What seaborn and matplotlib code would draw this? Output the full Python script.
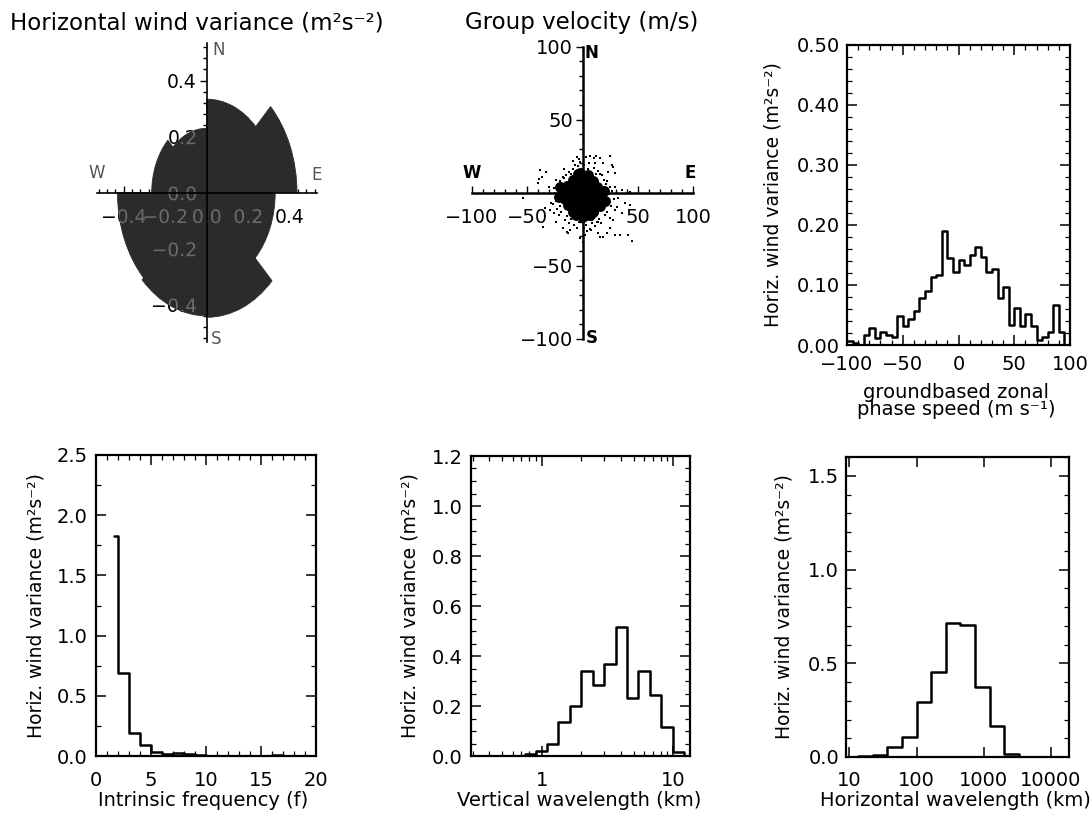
import numpy as np
import pandas as pd
import matplotlib
matplotlib.use("Agg")
import matplotlib.pyplot as plt
import matplotlib.patheffects as pe
from matplotlib.patches import Wedge
from matplotlib.path import Path
from matplotlib.ticker import (MultipleLocator, FuncFormatter, FixedLocator,
                               NullFormatter, LogLocator)
import seaborn as sns

# ---------------------------------------------------------------- data
# Horizontal wind variance per propagation direction (45 deg sectors, clockwise from N)
sector_start_deg = [0, 45, 90, 135, 180, 225, 270, 315]
sector_variance = [0.334, 0.435, 0.33, 0.445, 0.44, 0.43, 0.265, 0.23]

# Group velocity (m/s): densely populated core
core_u = [-8.2, -2.1, 3.9, 9.6,
          -14.3, -8.5, -3.2, 2.4, 7.8, 13.1,
          -17.2, -11.4, -5.3, 0.3, 5.9, 11.6, 16.8,
          -16.1, -10.2, -4.4, 1.2, 6.8, 12.7, 17.9,
          -12.8, -7.1, -1.3, 4.6, 10.9, 15.7,
          -8.4, -2.6, 3.8, 9.7,
          -20.3, -20.8, 19.6, 20.4, -4.1, 5.2, 0.2, -6.3, 7.1, -1.9]
core_v = [8.8, 9.6, 9.1, 8.2,
          4.9, 5.6, 4.2, 5.3, 4.7, 3.9,
          0.7, 0.2, 1.1, 0.4, 0.9, -0.3, 0.5,
          -4.2, -3.7, -4.6, -3.9, -4.4, -3.5, -4.8,
          -8.7, -8.1, -9.0, -8.4, -8.8, -9.3,
          -12.9, -13.6, -12.7, -13.2,
          3.8, -2.9, 1.2, -5.8, 12.9, 12.4, -16.2, -15.6, -15.1, 13.8]
# Group velocity (m/s): individual events around the core
spread_u = [-12, -9, -6, -4, -1, 1, 3, 5, 8, 10, 12, 14, -15, -2, 6, -7, 16, 11, -10, 0,
            -20, -23, -21, -25, -22, -24, -20, -23, -19, -26, -18, -27, -21, -17, -19, -18, -20,
            19, 21, 22, 24, 20, 23, 19, 22, 25, 26, 18, 20, 27, 17, 18, 21,
            -14, -10, -6, -3, 0, 3, 6, 9, 12, 15, -8, 1, 11, 17, -12, 4, -1, 7, 13, -5,
            -5.4, 6.6, 12.6, 18.6, 24.6, 26.2, 29.2, -38.5, -32.5, -40.0, -39.7, -53.6,
            -28.6, -29.5, -23.5, -17.5, -14.4, -11.4, 29.2, 35.2, 32.1, 38.2, 42.7, 29.2,
            27.6, 35.2, 24.6, 29.2, 41.2, 14.1, 18.6, 8.1, 2.1, -35.6, -13.0, 3.6, 15.6,
            27.6, 42.7, 33.7, 21.7, 15.6, -34.0, -37.0, 0.5, -2.0, 45.0,
            -16, -24, 23, 28, -9, 9, -26, 25, -3, 4, 31, -30, 10, -17, 14, 22]
spread_v = [14, 16, 13, 18, 15, 19, 13.5, 16.5, 14, 17, 12.5, 15, 12, 21, 20, 19, 13, 20, 12.5, 12.5,
            8, 5, 2, 0, -3, -6, -9, -11, -13, 3, 11, -8, -15, 10, 6.5, -4, -1,
            9, 6, 2, -1, -5, -7, -11, -13, 4, -9, 12, -15, 1, -9.5, 3.5, -2.5,
            -16, -18, -15, -20, -17, -22, -16, -19, -15.5, -18, -22, -24, -23, -21, -21, -18.5,
            -14.5, -25, -20, -24,
            24.7, 25.1, 25.1, 20.1, 25.1, 19.0, 13.3, 15.5, 14.0, 6.4, 9.2, -3.9,
            -7.3, -11.8, -19.9, -24.4, -26.7, -25.5, 4.1, 1.8, -3.8, -7.3, -8.4, -11.8,
            -18.7, -14.2, -24.4, -29.0, -29.0, -27.8, -30.1, -25.5, -29.0, -23.3, -27.8, 24.7, 23.6,
            17.8, 0.7, -29.0, -27.8, -30.1, -10.7, 11.0, -34.0, -31.0, -33.0,
            -19, 9, 14, -4, 22, -21, -14, -17, 23, -26, -10, 4, 24, 16, -20, 8]

# Horizontal wind variance vs. ground-based zonal phase speed (5 m/s bins)
phase_edges = list(range(-100, 101, 5))
phase_var = [0.006, 0.004, 0.0, 0.017, 0.029, 0.012, 0.022, 0.017, 0.014, 0.048,
             0.032, 0.043, 0.057, 0.078, 0.090, 0.114, 0.116, 0.190, 0.145, 0.121,
             0.141, 0.133, 0.150, 0.163, 0.146, 0.122, 0.126, 0.078, 0.097, 0.033,
             0.062, 0.032, 0.051, 0.032, 0.008, 0.013, 0.021, 0.067, 0.021, 0.0]

# ... vs. intrinsic frequency (in units of f)
freq_edges = [1.6, 2, 3, 4, 5, 6, 7, 8, 9, 10, 11, 12, 13, 14, 15, 16, 17, 18, 19, 20]
freq_var = [1.83, 0.69, 0.195, 0.09, 0.036, 0.02, 0.028, 0.018, 0.007, 0.004,
            0.003, 0.004, 0.003, 0.002, 0.004, 0.01, 0.003, 0.0, 0.0]

# ... vs. vertical wavelength (km)
vert_edges = [0.74, 0.90, 1.10, 1.34, 1.64, 2.00, 2.44, 2.98, 3.64, 4.45,
              5.43, 6.63, 8.10, 9.90, 12.1, 13.4]
vert_var = [0.008, 0.02, 0.047, 0.135, 0.201, 0.341, 0.285, 0.368, 0.517, 0.231,
            0.341, 0.245, 0.117, 0.015, 0.0]

# ... vs. horizontal wavelength (km)
horiz_edges = [13.5, 22.3, 36.8, 60.7, 100, 165, 272, 448, 739, 1218, 2009, 3312, 5460]
horiz_var = [0.004, 0.01, 0.055, 0.105, 0.295, 0.455, 0.713, 0.705, 0.372, 0.167, 0.018, 0.0]

YLABEL = "Horiz. wind variance (m²s⁻²)"

# ---------------------------------------------------------------- style
sns.set_theme(style="ticks")
plt.rcParams["font.family"] = ["DejaVu Sans"]
plt.rcParams.update({
    "axes.unicode_minus": True,
    "text.color": "black",
    "axes.labelcolor": "black",
    "axes.edgecolor": "black",
    "xtick.color": "black",
    "ytick.color": "black",
    "xtick.labelcolor": "black",
    "ytick.labelcolor": "black",
})
TICK_FS = 14
ROSE_FS = 13.5
LABEL_FS = 14
PETAL = "#2b2b2b"
X_PAD, Y_TICK, Y_PAD = 11, 5, 2

W, H = 1090, 816
fig = plt.figure(figsize=(W / 100, H / 100), dpi=100)
fig.patch.set_facecolor("white")


def px_axes(left, top, right, bottom):
    """Axes placed by pixel box (origin top-left)."""
    return fig.add_axes([left / W, 1 - bottom / H, (right - left) / W, (bottom - top) / H])


def fmt_value(v, decimals):
    if abs(v) < 1e-9:
        v = 0.0
    return f"{v:.{decimals}f}".replace("-", "\u2212")


def minus_fmt(decimals):
    return FuncFormatter(lambda v, pos: fmt_value(v, decimals))


def compass(ax, ticks, decimals, minor_step, letters, letter_color, letter_weight,
            line_width, fontsize):
    ax.set_facecolor("none")
    ax.spines["left"].set_position(("data", 0))
    ax.spines["bottom"].set_position(("data", 0))
    for s in ("top", "right"):
        ax.spines[s].set_visible(False)
    for s in ("left", "bottom"):
        ax.spines[s].set_linewidth(line_width)
        ax.spines[s].set_color("black")
    ax.set_xticks(ticks)
    ax.set_yticks(ticks)
    ax.xaxis.set_minor_locator(MultipleLocator(minor_step))
    ax.yaxis.set_minor_locator(MultipleLocator(minor_step))
    ax.xaxis.set_major_formatter(minus_fmt(decimals))
    ax.yaxis.set_major_formatter(minus_fmt(decimals))
    ax.tick_params(axis="x", which="both", direction="in", pad=X_PAD, labelsize=fontsize,
                   color="black", labelcolor="black", width=1.0)
    ax.tick_params(axis="y", which="both", direction="out", pad=Y_PAD, labelsize=fontsize,
                   color="black", labelcolor="black", width=1.0)
    ax.tick_params(which="major", length=Y_TICK)
    ax.tick_params(which="minor", length=3)
    for txt, (fx, fy) in letters.items():
        ax.text(fx, fy, txt, transform=ax.transAxes, ha="center", va="center",
                fontsize=12, color=letter_color, fontweight=letter_weight, clip_on=False)


def box_style(ax, xlim, ylim, y_major, y_minor, y_dec, xpad, ypad):
    ax.set_xlim(*xlim)
    ax.set_ylim(*ylim)
    for s in ax.spines.values():
        s.set_visible(True)
        s.set_linewidth(1.6)
        s.set_color("black")
    ax.yaxis.set_major_locator(MultipleLocator(y_major))
    ax.yaxis.set_minor_locator(MultipleLocator(y_minor))
    ax.yaxis.set_major_formatter(minus_fmt(y_dec))
    ax.tick_params(which="both", direction="in", top=True, right=True, color="black",
                   labelcolor="black", labelsize=TICK_FS)
    ax.tick_params(which="major", length=7, width=1.1)
    ax.tick_params(which="minor", length=3.5, width=0.9)
    ax.tick_params(axis="x", which="both", pad=xpad)
    ax.tick_params(axis="y", which="both", pad=ypad)


def step_hist(ax, edges, values, log=False):
    edges = np.asarray(edges, dtype=float)
    if log:
        centers = np.sqrt(edges[:-1] * edges[1:])
        bins = np.log10(edges)
    else:
        centers = 0.5 * (edges[:-1] + edges[1:])
        bins = edges
    df = pd.DataFrame({"value": centers, "variance": values})
    sns.histplot(data=df, x="value", weights="variance", bins=list(bins), element="step",
                 fill=False, color="black", linewidth=1.8, log_scale=log, ax=ax)


def labels(ax, xlabel, xlabel_x, ylabel_x, xlabel_y):
    ax.set_xlabel(xlabel, fontsize=LABEL_FS, color="black")
    ax.set_ylabel(YLABEL, fontsize=LABEL_FS - 0.5, color="black")
    ax.xaxis.set_label_coords(xlabel_x, xlabel_y)
    ax.xaxis.label.set_va("center")
    ax.yaxis.set_label_coords(ylabel_x, 0.5)
    ax.yaxis.label.set_va("center")


# ---------------------------------------------------------------- rose of variance
axr = px_axes(96.7, 42.9, 316.7, 342.5)
axr.set_xlim(-0.53, 0.53)
axr.set_ylim(-0.535, 0.535)
width = 360 / len(sector_start_deg)
petal_paths = []
for a0, r in zip(sector_start_deg, sector_variance):
    w = Wedge((0, 0), r, 90 - a0 - width, 90 - a0, facecolor=PETAL,
              edgecolor=PETAL, linewidth=0.6, zorder=1)
    axr.add_patch(w)
    petal_paths.append(w.get_path())
rose_ticks = [-0.4, -0.2, 0.0, 0.2, 0.4]
compass(axr, rose_ticks, 1, 0.04,
        {"N": (0.553, 0.976), "S": (0.545, 0.012), "W": (0.0, 0.565), "E": (1.0, 0.559)},
        "#555555", "normal", 1.2, ROSE_FS)
axr.set_axisbelow(True)
for s in ("left", "bottom"):
    axr.spines[s].set_zorder(2.5)

# tick labels re-drawn in grey where they lie over the petals
# (drawn as paths so that the petal outline can clip them)
petal_clip = Path.make_compound_path(*petal_paths)
for t in rose_ticks:
    lab = fmt_value(t, 1)
    tx = axr.annotate(lab, xy=(t, 0), xycoords="data", xytext=(0, -X_PAD),
                      textcoords="offset points", ha="center", va="top",
                      fontsize=ROSE_FS, color="#6b6b6b", zorder=2,
                      path_effects=[pe.Normal()])
    tx.set_clip_path(petal_clip, axr.transData)
    ty = axr.annotate(lab, xy=(0, t), xycoords="data", xytext=(-(Y_TICK + Y_PAD), 0),
                      textcoords="offset points", ha="right", va="center_baseline",
                      fontsize=ROSE_FS, color="#6b6b6b", zorder=2,
                      path_effects=[pe.Normal()])
    ty.set_clip_path(petal_clip, axr.transData)

fig.text(10 / W, 1 - 23 / H, "Horizontal wind variance (m²s⁻²)", fontsize=16.5,
         ha="left", va="center")

# ---------------------------------------------------------------- group velocity scatter
axs = px_axes(471.7, 46.7, 693.3, 338.7)
sns.scatterplot(x=spread_u, y=spread_v, ax=axs, s=3.5, marker="s", color="black",
                linewidth=0, zorder=3)
sns.scatterplot(x=core_u, y=core_v, ax=axs, s=62, marker="o", color="black",
                linewidth=0, zorder=3)
compass(axs, [-100, -50, 0, 50, 100], 0, 10,
        {"N": (0.5415, 0.977), "S": (0.5415, 0.002), "W": (0.0, 0.567), "E": (0.985, 0.567)},
        "black", "bold", 1.8, TICK_FS)
axs.set_xlim(-100, 100)
axs.set_ylim(-100, 100)
fig.text(582 / W, 1 - 23 / H, "Group velocity (m/s)", fontsize=16.5, ha="center", va="center")

# ---------------------------------------------------------------- phase speed histogram
ax1 = px_axes(847, 45, 1070, 345)
step_hist(ax1, phase_edges, phase_var)
box_style(ax1, (-100, 100), (0, 0.5), 0.1, 0.02, 2, xpad=7, ypad=5)
ax1.xaxis.set_major_locator(MultipleLocator(50))
ax1.xaxis.set_minor_locator(MultipleLocator(10))
ax1.xaxis.set_major_formatter(minus_fmt(0))
labels(ax1, "groundbased zonal\nphase speed (m s⁻¹)", 0.49, -0.334, -0.187)
ax1.xaxis.label.set_linespacing(0.85)

# ---------------------------------------------------------------- intrinsic frequency
ax2 = px_axes(96, 455, 316, 756)
step_hist(ax2, freq_edges, freq_var)
box_style(ax2, (0, 20), (0, 2.5), 0.5, 0.25, 1, xpad=11, ypad=6)
ax2.xaxis.set_major_locator(MultipleLocator(5))
ax2.xaxis.set_minor_locator(MultipleLocator(1))
ax2.xaxis.set_major_formatter(minus_fmt(0))
labels(ax2, "Intrinsic frequency (f)", 0.485, -0.273, -0.148)

# ---------------------------------------------------------------- vertical wavelength
ax3 = px_axes(471, 456, 690, 756)
step_hist(ax3, vert_edges, vert_var, log=True)
box_style(ax3, (0.29, 13.4), (0, 1.2), 0.2, 0.05, 1, xpad=11, ypad=6)
ax3.xaxis.set_major_locator(FixedLocator([1, 10]))
ax3.xaxis.set_major_formatter(FuncFormatter(lambda v, p: f"{v:g}"))
ax3.xaxis.set_minor_locator(LogLocator(base=10, subs=np.arange(2, 10)))
ax3.xaxis.set_minor_formatter(NullFormatter())
labels(ax3, "Vertical wavelength (km)", 0.493, -0.28, -0.149)

# ---------------------------------------------------------------- horizontal wavelength
ax4 = px_axes(846, 457, 1069, 757)
step_hist(ax4, horiz_edges, horiz_var, log=True)
box_style(ax4, (8.9, 18500), (0, 1.6), 0.5, 0.1, 1, xpad=10, ypad=5)
ax4.xaxis.set_major_locator(FixedLocator([10, 100, 1000, 10000]))
ax4.xaxis.set_major_formatter(FuncFormatter(lambda v, p: f"{v:.0f}"))
ax4.xaxis.set_minor_locator(LogLocator(base=10, subs=np.arange(2, 10)))
ax4.xaxis.set_minor_formatter(NullFormatter())
labels(ax4, "Horizontal wavelength (km)", 0.489, -0.278, -0.145)

fig.savefig("out.png", dpi=100, facecolor="white")
